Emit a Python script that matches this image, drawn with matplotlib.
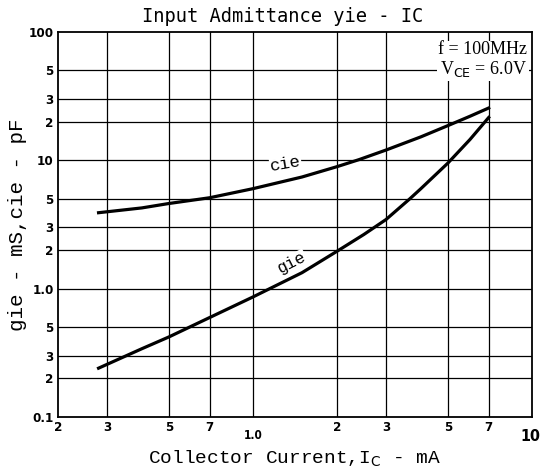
import matplotlib
matplotlib.use("Agg")
import matplotlib.pyplot as plt
from matplotlib.transforms import ScaledTranslation

# values (Ic in mA)
cie_x = [0.28, 0.4, 0.5, 0.7, 1.0, 1.5, 2.0, 2.4, 3.0, 4.0, 5.0, 6.0, 7.0]
cie_y = [3.9, 4.25, 4.6, 5.1, 6.0, 7.4, 8.9, 10.1, 12.0, 15.2, 18.6, 22.0, 25.5]

gie_x = [0.28, 0.4, 0.5, 0.7, 1.0, 1.5, 2.0, 2.5, 3.0, 3.65, 4.0, 5.0, 6.0, 7.0]
gie_y = [0.24, 0.34, 0.42, 0.595, 0.86, 1.33, 1.95, 2.64, 3.45, 5.0, 6.0, 9.5, 14.5, 21.5]

x_ticks = [0.2, 0.3, 0.5, 0.7, 1.0, 2, 3, 5, 7, 10]
x_labels = ["2", "3", "5", "7", "1.0", "2", "3", "5", "7", "10"]
y_ticks = [0.1, 0.2, 0.3, 0.5, 1.0, 2, 3, 5, 10, 20, 30, 50, 100]
y_labels = ["0.1", "2", "3", "5", "1.0", "2", "3", "5", "10", "2", "3", "5", "100"]

fig = plt.figure(figsize=(5.4, 4.68), dpi=100)
ax = fig.add_axes([0.107, 0.109, 0.878, 0.823])
ax.set_xscale("log")
ax.set_yscale("log")
ax.set_xlim(0.2, 10)
ax.set_ylim(0.1, 100)

# grid lines drawn by hand at the tick positions
for xv in x_ticks[1:-1]:
    ax.axvline(xv, color="black", lw=0.9, zorder=1)
for yv in y_ticks[1:-1]:
    ax.axhline(yv, color="black", lw=0.9, zorder=1)

ax.plot(cie_x, cie_y, color="black", lw=2.3, zorder=3)
ax.plot(gie_x, gie_y, color="black", lw=2.3, zorder=3)

ax.text(1.31, 9.4, "cie", family="Liberation Mono", fontsize=12.5, rotation=10,
        ha="center", va="center", zorder=4,
        bbox=dict(facecolor="white", edgecolor="none", pad=0.3))
ax.text(1.38, 1.6, "gie", family="Liberation Mono", fontsize=12, rotation=27,
        ha="center", va="center", zorder=4,
        bbox=dict(facecolor="white", edgecolor="none", pad=0.3))

ax.text(0.99, 0.975, "f = 100MHz\nV$_{\\mathrm{CE}}$ = 6.0V", transform=ax.transAxes,
        ha="right", va="top", family="Liberation Serif", fontsize=13,
        linespacing=1.05, zorder=4,
        bbox=dict(facecolor="white", edgecolor="none", pad=1))

ax.xaxis.set_minor_locator(plt.NullLocator())
ax.yaxis.set_minor_locator(plt.NullLocator())
ax.set_xticks(x_ticks)
ax.set_xticklabels(x_labels)
ax.set_yticks(y_ticks)
ax.set_yticklabels(y_labels)
ax.tick_params(length=0, pad=3)
for lab in ax.get_xticklabels() + ax.get_yticklabels():
    lab.set_fontweight("bold")
    lab.set_fontsize(9.5)
    lab.set_family("DejaVu Sans")
    lab.set_fontstretch("condensed")
xl = ax.get_xticklabels()
xl[4].set_transform(xl[4].get_transform() + ScaledTranslation(0, -6 / 72, fig.dpi_scale_trans))
xl[4].set_fontsize(8.5)
xl[-1].set_fontsize(11.5)
xl[-1].set_transform(xl[-1].get_transform() + ScaledTranslation(-1 / 72, -6 / 72, fig.dpi_scale_trans))

for s in ax.spines.values():
    s.set_linewidth(1.3)

fig.text(283 / 540, 1 - 17 / 468, "Input Admittance yie - IC", family="DejaVu Sans Mono",
         fontsize=13.5, ha="center", va="center")
ax.set_xlabel("Collector Current,I$_{\\mathrm{C}}$ - mA", family="Liberation Mono",
              fontsize=14, labelpad=3)
ax.set_ylabel("gie - mS,cie - pF", family="Liberation Mono", fontsize=15, labelpad=1)

fig.savefig("out.png", dpi=100, facecolor="white")
